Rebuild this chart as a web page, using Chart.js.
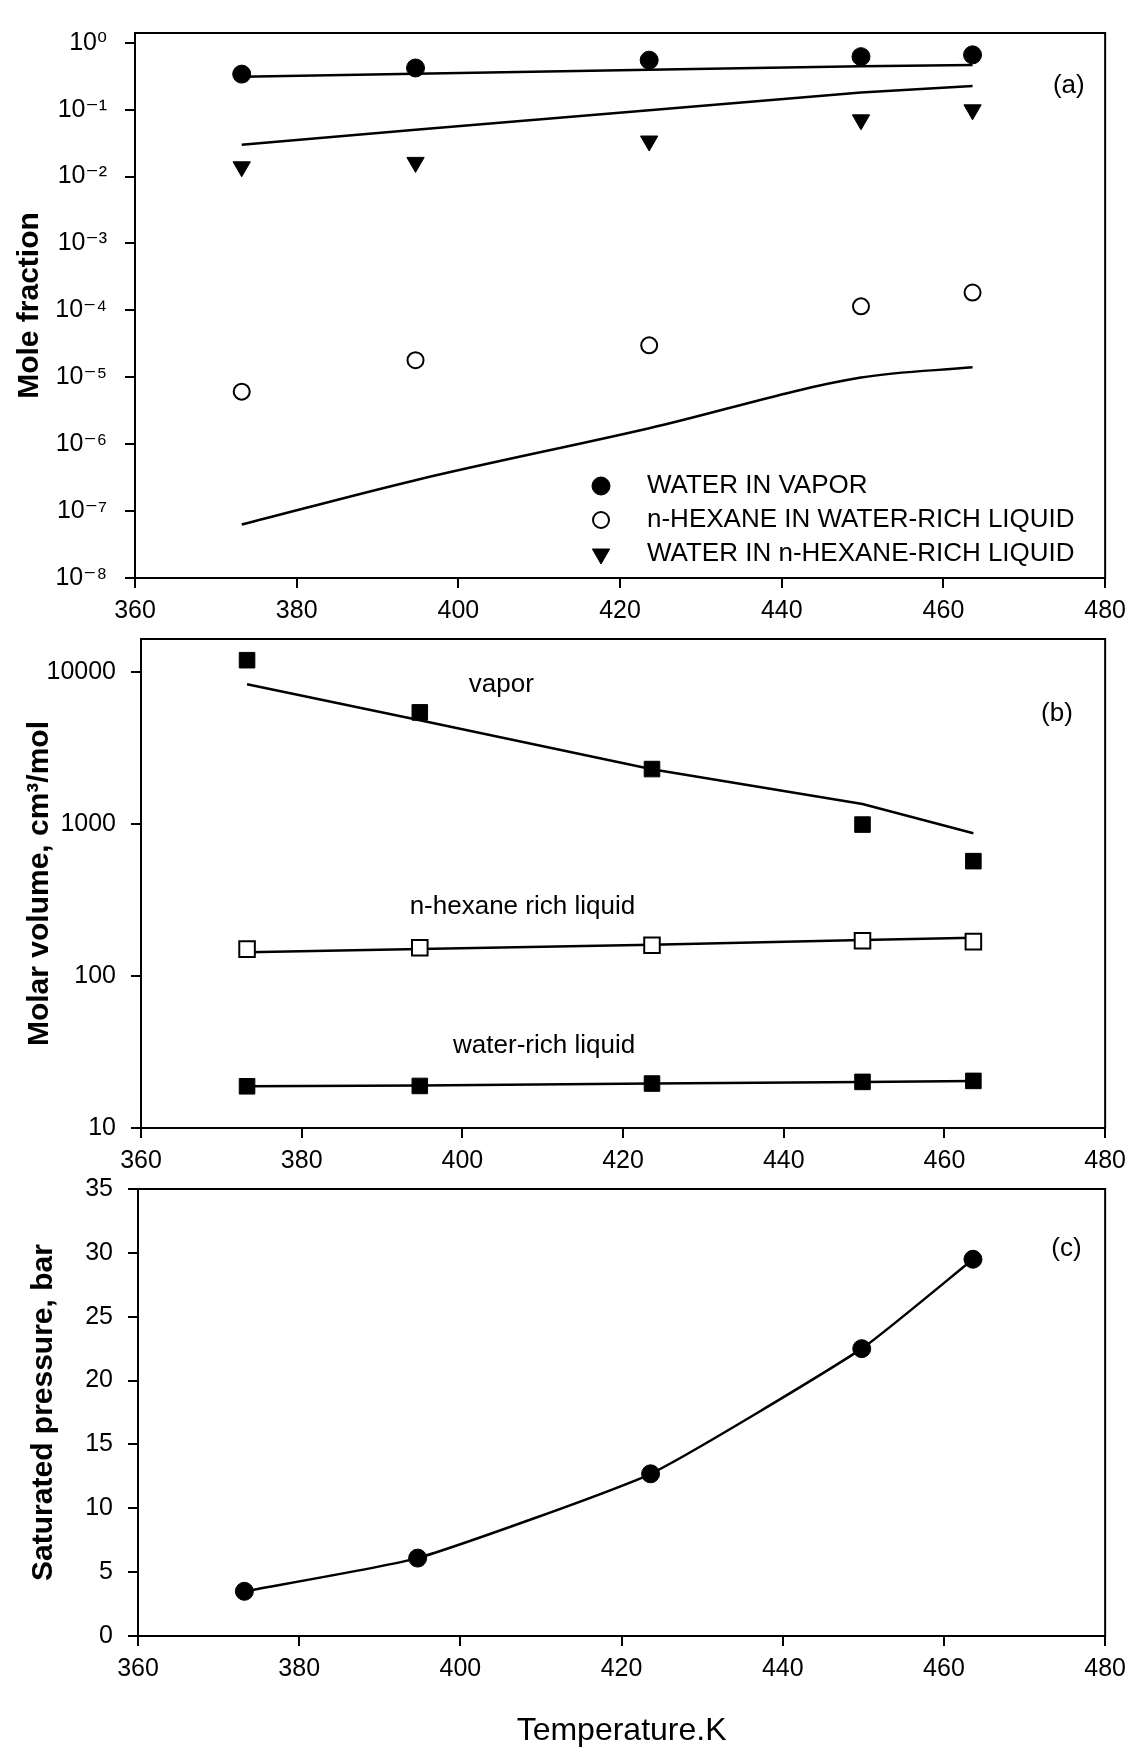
<!DOCTYPE html>
<html>
<head>
<meta charset="utf-8">
<script src="https://cdn.jsdelivr.net/npm/chart.js@4.4.0/dist/chart.umd.min.js"></script>
<style>
  html, body { margin: 0; padding: 0; background: #fff; width: 1134px; height: 1752px; overflow: hidden; }
  canvas { position: absolute; left: 0; }
</style>
</head>
<body>
<canvas id="chartA" width="1134" height="640" style="top:0px"></canvas>
<canvas id="chartB" width="1134" height="600" style="top:600px"></canvas>
<canvas id="chartC" width="1134" height="602" style="top:1150px"></canvas>
<script>
// ---------------- data ----------------
const temperatureK = [373.2, 394.7, 423.6, 449.8, 463.6];
const xTicks = [360, 380, 400, 420, 440, 460, 480];

// (a) mole fractions
const waterInVapor            = [0.34, 0.42, 0.55, 0.62, 0.66];
const hexaneInWaterRich       = [6.1e-6, 1.8e-5, 3.0e-5, 1.15e-4, 1.85e-4];
const waterInHexaneRich       = [0.0140, 0.0163, 0.0340, 0.0705, 0.0995];
const waterInVaporModel       = [0.31, 0.345, 0.395, 0.445, 0.465];
const waterInHexaneRichModel  = [0.030, 0.050, 0.098, 0.180, 0.225];
const hexaneInWaterRichModel  = [6.3e-8, 2.9e-7, 1.73e-6, 9.9e-6, 1.41e-5];
const moleFractionTicks       = [1e0, 1e-1, 1e-2, 1e-3, 1e-4, 1e-5, 1e-6, 1e-7, 1e-8];
const moleFractionTickLabels  = ['10⁰', '10⁻¹', '10⁻²', '10⁻³', '10⁻⁴', '10⁻⁵', '10⁻⁶', '10⁻⁷', '10⁻⁸'];
const legendLabelsA = ['WATER IN VAPOR', 'n-HEXANE IN WATER-RICH LIQUID', 'WATER IN n-HEXANE-RICH LIQUID'];

// (b) molar volumes, cm3/mol
const vaporVolume           = [11900, 5400, 2290, 988, 568];
const vaporVolumeModel      = [8270, 4800, 2285, 1350, 867];
const hexaneRichVolume      = [150, 153, 159, 170, 168];
const hexaneRichVolumeModel = [143, 150, 160, 172, 178];
const waterRichVolume       = [18.8, 18.9, 19.6, 20.1, 20.4];
const waterRichVolumeModel  = [18.8, 19.0, 19.6, 20.1, 20.4];
const molarVolumeTicks      = [10, 100, 1000, 10000];
const molarVolumeTickLabels = ['10', '100', '1000', '10000'];

// (c) saturated pressure, bar
const saturatedPressure = [3.5, 6.1, 12.7, 22.5, 29.5];
const pressureTicks     = [0, 5, 10, 15, 20, 25, 30, 35];

// ---------------- helpers ----------------
const FONT = '"Liberation Sans", Arial, "DejaVu Sans", sans-serif';
Chart.defaults.font.family = FONT;
Chart.defaults.color = '#000';

const pts = (arr) => temperatureK.map((t, i) => ({ x: t, y: arr[i] }));

function pointSet(label, arr, style, opts) {
  return Object.assign({
    label, data: pts(arr), showLine: false, order: 0,
    pointStyle: style, pointRadius: 9, pointBackgroundColor: '#000',
    pointBorderColor: '#000', pointBorderWidth: 1, pointHoverRadius: 9
  }, opts || {});
}
function lineSet(label, arr, opts) {
  return Object.assign({
    label, data: pts(arr), showLine: true, order: 1,
    borderColor: '#000', borderWidth: 2.5, pointRadius: 0, pointHoverRadius: 0,
    fill: false, tension: 0
  }, opts || {});
}

function xScale(axisHeight, title) {
  const s = {
    type: 'linear', min: 360, max: 480,
    afterBuildTicks: (sc) => { sc.ticks = xTicks.map(v => ({ value: v })); },
    afterFit: (sc) => { sc.height = axisHeight; },
    ticks: { font: { size: 25 }, padding: 8, autoSkip: false, maxRotation: 0, color: '#000',
             callback: (v) => String(v) },
    grid: { display: true, drawOnChartArea: false, drawTicks: true, tickLength: 10, color: '#000', lineWidth: 2 },
    border: { display: true, color: '#000', width: 2 }
  };
  if (title) {
    s.title = { display: true, text: title, color: '#000', font: { size: 32 }, padding: { top: 0, bottom: 2 } };
  }
  return s;
}

function yScale(cfg) {
  return {
    type: cfg.type, min: cfg.min, max: cfg.max,
    afterBuildTicks: (sc) => { sc.ticks = cfg.ticks.map(v => ({ value: v })); },
    afterFit: (sc) => { sc.width = cfg.width; },
    ticks: { font: { size: 25 }, padding: cfg.tickPad, autoSkip: false, color: '#000',
             callback: (v) => {
               const i = cfg.ticks.indexOf(v);
               return cfg.labels ? (i >= 0 ? cfg.labels[i] : '') : String(v);
             } },
    grid: { display: true, drawOnChartArea: false, drawTicks: true, tickLength: 10, color: '#000', lineWidth: 2 },
    border: { display: true, color: '#000', width: 2 },
    title: { display: true, text: cfg.title, color: '#000', font: { size: 30, weight: 'bold' },
             padding: { top: cfg.titlePad, bottom: 0 } }
  };
}

// frame (top & right border of the plot box)
const framePlugin = {
  id: 'frame',
  beforeDatasetsDraw(chart) {
    const { ctx, chartArea: a } = chart;
    ctx.save();
    ctx.strokeStyle = '#000';
    ctx.lineWidth = 2;
    ctx.strokeRect(a.left, a.top, a.right - a.left, a.bottom - a.top);
    ctx.restore();
  }
};

// texts placed in data coordinates
const notesPlugin = {
  id: 'notes',
  afterDraw(chart, args, opts) {
    const items = (opts && opts.items) || [];
    const { ctx } = chart;
    const xs = chart.scales.x, ys = chart.scales.y;
    ctx.save();
    ctx.fillStyle = '#000';
    items.forEach(it => {
      ctx.font = (it.size || 26) + 'px ' + FONT;
      ctx.textAlign = it.align || 'center';
      ctx.textBaseline = it.baseline || 'middle';
      ctx.fillText(it.text, xs.getPixelForValue(it.x), ys.getPixelForValue(it.y));
    });
    ctx.restore();
  }
};

// legend drawn inside the plot area of panel (a)
const insideLegendPlugin = {
  id: 'insideLegend',
  afterDraw(chart, args, opts) {
    if (!opts || !opts.entries) return;
    const { ctx, chartArea: a } = chart;
    ctx.save();
    opts.entries.forEach((e, i) => {
      const ds = chart.data.datasets[e.dataset];
      const y = a.top + opts.top + i * opts.rowGap;
      const mx = a.left + opts.markerX;
      ctx.fillStyle = ds.pointBackgroundColor;
      ctx.strokeStyle = ds.pointBorderColor;
      ctx.lineWidth = ds.pointBorderWidth;
      const style = { pointStyle: ds.pointStyle, radius: ds.pointRadius, rotation: ds.pointRotation || 0,
                      borderWidth: ds.pointBorderWidth };
      if (Chart.helpers && Chart.helpers.drawPoint) {
        Chart.helpers.drawPoint(ctx, style, mx, y);
      } else {
        ctx.beginPath(); ctx.arc(mx, y, ds.pointRadius, 0, Math.PI * 2); ctx.fill(); ctx.stroke();
      }
      ctx.fillStyle = '#000';
      ctx.font = '26px ' + FONT;
      ctx.textAlign = 'left';
      ctx.textBaseline = 'middle';
      ctx.fillText(ds.label, a.left + opts.textX, y);
    });
    ctx.restore();
  }
};

const common = {
  responsive: false, animation: false, devicePixelRatio: 1, events: [],
};

// ---------------- panel (a) ----------------
new Chart(document.getElementById('chartA'), {
  type: 'scatter',
  data: {
    datasets: [
      pointSet(legendLabelsA[0], waterInVapor, 'circle', { pointRadius: 9 }),
      pointSet(legendLabelsA[1], hexaneInWaterRich, 'circle',
               { pointRadius: 8, pointBackgroundColor: '#fff', pointBorderWidth: 2 }),
      pointSet(legendLabelsA[2], waterInHexaneRich, 'triangle', { pointRadius: 10, pointRotation: 180 }),
      lineSet('model: water in vapor', waterInVaporModel),
      lineSet('model: water in n-hexane-rich liquid', waterInHexaneRichModel),
      lineSet('model: n-hexane in water-rich liquid', hexaneInWaterRichModel, { cubicInterpolationMode: 'monotone' })
    ]
  },
  options: Object.assign({}, common, {
    layout: { padding: { left: 0, right: 28, top: 18, bottom: 0 } },
    scales: {
      x: xScale(62),
      y: yScale({ type: 'logarithmic', min: 1e-8, max: 1.4, ticks: moleFractionTicks,
                  labels: moleFractionTickLabels, width: 135, tickPad: 18,
                  title: 'Mole fraction', titlePad: 12 })
    },
    plugins: {
      legend: { display: false }, tooltip: { enabled: false },
      notes: { items: [{ text: '(a)', x: 475.5, y: 0.23 }] },
      insideLegend: { entries: [{ dataset: 0 }, { dataset: 1 }, { dataset: 2 }],
                      markerX: 466, textX: 512, top: 453, rowGap: 34 }
    }
  }),
  plugins: [framePlugin, notesPlugin, insideLegendPlugin]
});

// ---------------- panel (b) ----------------
new Chart(document.getElementById('chartB'), {
  type: 'scatter',
  data: {
    datasets: [
      pointSet('vapor', vaporVolume, 'rect', { pointRadius: 11 }),
      pointSet('n-hexane rich liquid', hexaneRichVolume, 'rect',
               { pointRadius: 11, pointBackgroundColor: '#fff', pointBorderWidth: 2 }),
      pointSet('water-rich liquid', waterRichVolume, 'rect', { pointRadius: 11 }),
      lineSet('model: vapor', vaporVolumeModel),
      lineSet('model: n-hexane rich liquid', hexaneRichVolumeModel),
      lineSet('model: water-rich liquid', waterRichVolumeModel)
    ]
  },
  options: Object.assign({}, common, {
    layout: { padding: { left: 0, right: 25, top: 39, bottom: 0 } },
    scales: {
      x: xScale(72),
      y: yScale({ type: 'logarithmic', min: 10, max: 16400, ticks: molarVolumeTicks,
                  labels: molarVolumeTickLabels, width: 141, tickPad: 15,
                  title: 'Molar volume, cm³/mol', titlePad: 22 })
    },
    plugins: {
      legend: { display: false }, tooltip: { enabled: false },
      notes: { items: [
        { text: '(b)', x: 474, y: 5270 },
        { text: 'vapor', x: 408.9, y: 7390, align: 'right', baseline: 'alphabetic' },
        { text: 'n-hexane rich liquid', x: 421.5, y: 256, align: 'right', baseline: 'alphabetic' },
        { text: 'water-rich liquid', x: 421.5, y: 31.3, align: 'right', baseline: 'alphabetic' }
      ] }
    }
  }),
  plugins: [framePlugin, notesPlugin]
});

// ---------------- panel (c) ----------------
new Chart(document.getElementById('chartC'), {
  type: 'scatter',
  data: {
    datasets: [
      Object.assign(lineSet('Saturated pressure', saturatedPressure, { tension: 0.15 }), {
        pointRadius: 9, pointHoverRadius: 9, pointStyle: 'circle',
        pointBackgroundColor: '#000', pointBorderColor: '#000', pointBorderWidth: 1
      })
    ]
  },
  options: Object.assign({}, common, {
    layout: { padding: { left: 0, right: 26, top: 39, bottom: 0 } },
    scales: {
      x: xScale(116, 'Temperature.K'),
      y: yScale({ type: 'linear', min: 0, max: 35, ticks: pressureTicks, labels: null,
                  width: 138, tickPad: 15, title: 'Saturated pressure, bar', titlePad: 26 })
    },
    plugins: {
      legend: { display: false }, tooltip: { enabled: false },
      notes: { items: [{ text: '(c)', x: 475.2, y: 30.3 }] }
    }
  }),
  plugins: [framePlugin, notesPlugin]
});
</script>
</body>
</html>
